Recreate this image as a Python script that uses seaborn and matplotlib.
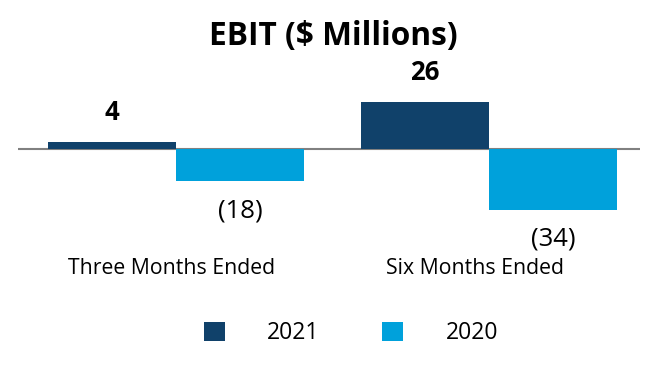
import matplotlib
matplotlib.use("Agg")
import matplotlib.pyplot as plt
import matplotlib.transforms as mtransforms
import seaborn as sns
import pandas as pd

categories = ["Three Months Ended", "Six Months Ended"]
years = ["2021", "2020"]
values_2021 = [4, 26]
values_2020 = [-18, -34]
labels_2021 = ["4", "26"]
labels_2020 = ["(18)", "(34)"]

df = pd.DataFrame({
    "period": categories * 2,
    "year": [years[0]] * 2 + [years[1]] * 2,
    "value": values_2021 + values_2020,
})

sns.set_style("white")
plt.rcParams["font.family"] = ["Open Sans", "DejaVu Sans"]
plt.rcParams["text.color"] = "black"

colors = {"2021": "#10416A", "2020": "#00A1DB"}

fig = plt.figure(figsize=(6.66, 3.8), dpi=100)
ax = fig.add_axes([18 / 666, 1 - 250 / 380, 622 / 666, 190 / 380])

sns.barplot(data=df, x="period", y="value", hue="year", hue_order=years,
            order=categories, palette=colors, width=0.82, saturation=1,
            linewidth=0, ax=ax, legend=True)

ax.axhline(0, color="#808080", lw=1.5, zorder=0)
ax.set_xlim(-0.505, 1.482)
ax.set_ylim(-56.1, 49.4)
ax.axis("off")

# data labels
for cont, labs, bold in zip(ax.containers, [labels_2021, labels_2020], [True, False]):
    for bar, lab in zip(cont, labs):
        h = bar.get_height()
        x = bar.get_x() + bar.get_width() / 2
        off = 21 if h >= 0 else -21
        ax.annotate(lab, (x, h), xytext=(0, off), textcoords="offset points",
                    ha="center", va="center", fontsize=18.5,
                    fontweight="bold" if bold else "normal", color="black")

# category labels
blend = mtransforms.blended_transform_factory(ax.transData, fig.transFigure)
label_x = [-0.013, -0.045]
for i, c in enumerate(categories):
    ax.text(i + label_x[i], 1 - 268 / 380, c, transform=blend,
            ha="center", va="center", fontsize=15.3, color="black")

handles, leg_labels = ax.get_legend_handles_labels()
ax.get_legend().remove()
fig.legend(handles, leg_labels, loc="center", bbox_to_anchor=(351 / 666, 1 - 333 / 380),
           ncol=2, frameon=False, fontsize=16.5, handlelength=0.9, handleheight=0.9,
           handletextpad=1.85, columnspacing=2.75)

fig.suptitle("EBIT ($ Millions)", y=1 - 36 / 380, va="center", fontsize=22.8,
             fontweight="bold", color="black")

fig.savefig("out.png", dpi=100)
